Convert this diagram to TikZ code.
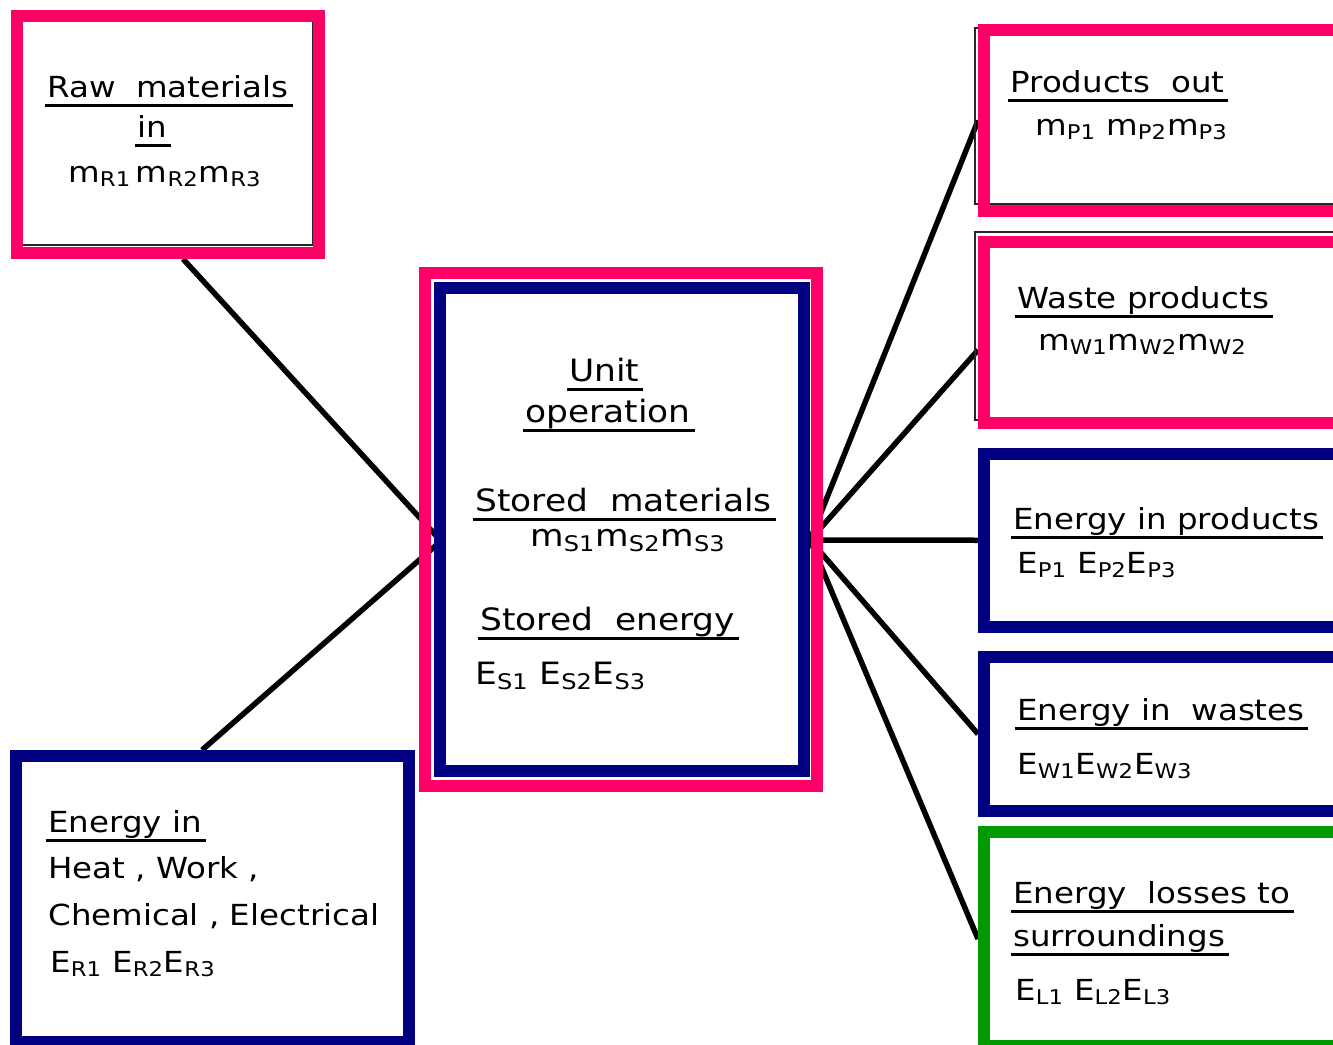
\documentclass[tikz,border=0pt]{standalone}
\usepackage{fontspec}
\setmainfont{DejaVu Sans}[FakeStretch=1.12]
\usetikzlibrary{backgrounds}

\definecolor{framepink}{RGB}{255,0,102}
\definecolor{framenavy}{RGB}{0,0,128}
\definecolor{framegreen}{RGB}{0,153,0}

\begin{document}
\begin{tikzpicture}[
        x=0.02cm, y=-0.02cm,
        pinkbox/.style={
            draw=framepink,
            line width=0.24cm,
            inner sep=0pt
        },
        navybox/.style={
            draw=framenavy,
            line width=0.24cm,
            inner sep=0pt
        },
        greenbox/.style={
            draw=framegreen,
            line width=0.24cm,
            inner sep=0pt
        },
        inkframe/.style={
            draw=black!85,
            line width=0.05cm
        },
        boxtext/.style={
            anchor=base west,
            inner sep=0pt,
            font=\fontsize{16.5}{20}\selectfont
        },
        unittext/.style={
            boxtext,
            font=\fontsize{17.5}{21}\selectfont
        },
        wire/.style={
            black,
            line width=0.11cm
        },
        ulline/.style={
            black,
            line width=0.05cm
        }
    ]

    % ---------------------------------------------------------
    % Underline under a heading node
    % #1 = node name
    % ---------------------------------------------------------
    \newcommand{\ulText}[1]{
        \draw[ulline]
            ([xshift=-0.05cm, yshift=-0.17cm]#1.base west)
            --
            ([xshift=0.07cm, yshift=-0.17cm]#1.base east);
    }

    \useasboundingbox (0,0) rectangle (1333,1045);
    \clip (0,0) rectangle (1333,1045);

    % Old black frames peeking out
    \draw[inkframe] (14,14) rectangle (313,245);
    \draw[inkframe] (975,28) rectangle (1340,204);
    \draw[inkframe] (975,232) rectangle (1340,420);

    % ---------------------------------------------------------
    % Boxes
    % ---------------------------------------------------------
    \node[pinkbox, minimum width=6.05cm, minimum height=4.75cm] (raw) at (167.75,134.25) {};
    \node[navybox, minimum width=7.86cm, minimum height=5.72cm] (enin) at (212.5,899) {};

    \node[pinkbox, minimum width=7.86cm, minimum height=10.27cm] (unitout) at (621,529.25) {};
    \node[navybox, minimum width=7.28cm, minimum height=9.67cm] (unitin) at (622,529.25) {};

    \node[pinkbox, minimum width=7.22cm, minimum height=3.62cm] (prodout) at (1164.5,120.5) {};
    \node[pinkbox, minimum width=7.22cm, minimum height=3.62cm] (waste) at (1164.5,332.5) {};
    \node[navybox, minimum width=7.22cm, minimum height=3.47cm] (enprod) at (1164.5,540.25) {};
    \node[navybox, minimum width=7.22cm, minimum height=3.08cm] (enwaste) at (1164.5,734) {};
    \node[greenbox, minimum width=7.22cm, minimum height=4.28cm] (loss) at (1164.5,939) {};

    % ---------------------------------------------------------
    % Texts
    % ---------------------------------------------------------
    % Raw materials
    \node[boxtext] (rawT) at (47,97) {Raw~~materials};
    \node[boxtext] (rawIn) at (137,137) {in};
    \node[boxtext] (rawM) at (68,182) {m\textsubscript{R1}\,m\textsubscript{R2}m\textsubscript{R3}};
    \ulText{rawT}
    \ulText{rawIn}

    % Energy in
    \node[boxtext] (eninT) at (48,832) {Energy in};
    \node[boxtext] (eninA) at (48,878) {Heat , Work ,};
    \node[boxtext] (eninB) at (48,925) {Chemical , Electrical};
    \node[boxtext] (eninE) at (50,972) {E\textsubscript{R1} E\textsubscript{R2}E\textsubscript{R3}};
    \ulText{eninT}

    % Unit operation
    \node[unittext] (unitA) at (569,381) {Unit};
    \node[unittext] (unitB) at (525,422) {operation};
    \node[unittext] (storM) at (475,511) {Stored~~materials};
    \node[unittext] (storMv) at (530,546) {m\textsubscript{S1}m\textsubscript{S2}m\textsubscript{S3}};
    \node[unittext] (storE) at (480,630) {Stored~~energy};
    \node[unittext] (storEv) at (475,684) {E\textsubscript{S1} E\textsubscript{S2}E\textsubscript{S3}};
    \ulText{unitA}
    \ulText{unitB}
    \ulText{storM}
    \ulText{storE}

    % Outputs
    \node[boxtext] (prodT) at (1010,92) {Products~~out};
    \node[boxtext] (prodM) at (1035,135) {m\textsubscript{P1} m\textsubscript{P2}m\textsubscript{P3}};
    \ulText{prodT}

    \node[boxtext] (wasteT) at (1017,308) {Waste products};
    \node[boxtext] (wasteM) at (1038,350) {m\textsubscript{W1}m\textsubscript{W2}m\textsubscript{W2}};
    \ulText{wasteT}

    \node[boxtext] (enprodT) at (1013,529) {Energy in products};
    \node[boxtext] (enprodE) at (1017,573) {E\textsubscript{P1} E\textsubscript{P2}E\textsubscript{P3}};
    \ulText{enprodT}

    \node[boxtext] (enwasteT) at (1017,720) {Energy in~~wastes};
    \node[boxtext] (enwasteE) at (1017,774) {E\textsubscript{W1}E\textsubscript{W2}E\textsubscript{W3}};
    \ulText{enwasteT}

    \node[boxtext] (lossA) at (1013,903) {Energy~~losses to};
    \node[boxtext] (lossB) at (1013,946) {surroundings};
    \node[boxtext] (lossE) at (1015,1000) {E\textsubscript{L1} E\textsubscript{L2}E\textsubscript{L3}};
    \ulText{lossA}
    \ulText{lossB}

    % ---------------------------------------------------------
    % Connectors, behind the frames
    % ---------------------------------------------------------
    \coordinate (hubL) at (441,541);
    \coordinate (hubR) at (810,540);

    \begin{pgfonlayer}{background}
        \draw[wire] (raw.-83) -- (hubL);
        \draw[wire] (enin.94) -- (hubL);

        \draw[wire] (hubR) -- (prodout.west);
        \draw[wire] (hubR) -- ([yshift=-0.35cm]waste.west);
        \draw[wire] (hubR) -- (enprod.west);
        \draw[wire] (hubR) -- (enwaste.west);
        \draw[wire] (hubR) -- (loss.west);
    \end{pgfonlayer}

\end{tikzpicture}
\end{document}
